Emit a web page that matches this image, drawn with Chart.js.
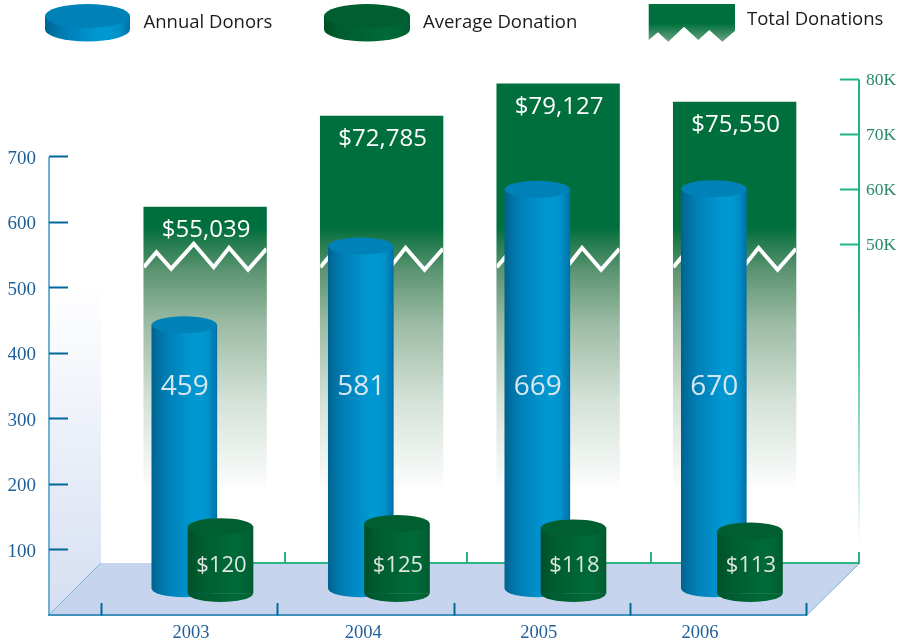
<!DOCTYPE html>
<html>
<head>
<meta charset="utf-8">
<title>Donors and donations</title>
<script src="https://cdn.jsdelivr.net/npm/chart.js@4"></script>
<style>
  html, body { margin: 0; padding: 0; background: #fff; }
  canvas { display: block; }
</style>
</head>
<body>
<canvas id="DonorChart" width="897" height="641"></canvas>
<script>
var categories = [2003, 2004, 2005, 2006];
var annualDonors = [459, 581, 669, 670];
var averageDonation = [120, 125, 118, 113];
var totalDonations = [55039, 72785, 79127, 75550];

var seriesNames = ['Annual Donors', 'Average Donation', 'Total Donations'];
var donorTicks = [100, 200, 300, 400, 500, 600, 700];
var totalTicks = [50000, 60000, 70000, 80000];
// the year labels do not sit quite in the middle of their slots
var yearLabelShift = [0.01, -0.014, -0.02, -0.106];

var SANS = '"Open Sans", sans-serif';
var SERIF = '"Liberation Serif", serif';

// zigzag of the broken axis: fraction of bar width, px from the 50K tick
var breakShape = [[0, 22.7], [0.103, 7.7], [0.223, 24.3], [0.407, -0.7], [0.57, 22.7], [0.695, 3.3], [0.85, 25.3], [1, 4.3]];

function points(values, shift) {
    return categories.map(function (year, i) {
        return { x: year + shift, y: values[i] };
    });
}

function dollars(v) {
    return '$' + v.toLocaleString('en-US');
}

function cylinderFill(stops, width) {
    return function (ctx) {
        var chart = ctx.chart;
        if (!chart.chartArea || !ctx.raw) return stops[0];
        var mid = chart.scales.x.getPixelForValue(ctx.raw.x);
        var g = chart.ctx.createLinearGradient(mid - width / 2, 0, mid + width / 2, 0);
        stops.forEach(function (s, i) { g.addColorStop(i / (stops.length - 1), s); });
        return g;
    };
}

var blueStops = ['#00638f', '#0074a6', '#0080b8', '#0087c0', '#0090c9', '#0098d2', '#0098d2', '#0090c8', '#0072a8'];
var greenStops = ['#004f27', '#005a2d', '#005f30', '#006233', '#006636', '#006a38', '#006636', '#005c2e'];

function totalFill(ctx) {
    var c = ctx.chart.ctx;
    var g = c.createLinearGradient(0, 228, 0, 495);
    g.addColorStop(0, '#006f3e');
    g.addColorStop(0.04, '#1b7849');
    g.addColorStop(0.16, '#5c9471');
    g.addColorStop(0.36, '#9cbba5');
    g.addColorStop(0.65, '#d5e2d8');
    g.addColorStop(1, '#ffffff');
    return g;
}

function disc(c, cx, top, rx, ry, height, bodyStops, topColor) {
    var g = c.createLinearGradient(cx - rx, 0, cx + rx, 0);
    bodyStops.forEach(function (s, i) { g.addColorStop(i / (bodyStops.length - 1), s); });
    c.fillStyle = g;
    c.beginPath();
    c.ellipse(cx, top + ry + height, rx, ry, 0, 0, Math.PI);
    c.lineTo(cx - rx, top + ry);
    c.lineTo(cx + rx, top + ry);
    c.closePath();
    c.fill();
    c.fillStyle = topColor;
    c.beginPath();
    c.ellipse(cx, top + ry, rx, ry, 0, 0, Math.PI * 2);
    c.fill();
}

// floor, wall and the axis lines the scales can't draw on their own
var roomPlugin = {
    id: 'room',
    beforeDraw: function (chart) {
        var c = chart.ctx;
        c.save();

        var wall = c.createLinearGradient(0, 285, 0, 615);
        wall.addColorStop(0, '#ffffff');
        wall.addColorStop(1, '#d5def1');
        c.fillStyle = wall;
        c.beginPath();
        c.moveTo(49, 285);
        c.lineTo(101, 285);
        c.lineTo(101, 563);
        c.lineTo(49, 615);
        c.closePath();
        c.fill();

        c.fillStyle = '#c6d4ee';
        c.beginPath();
        c.moveTo(49, 615);
        c.lineTo(101, 563);
        c.lineTo(860, 563);
        c.lineTo(807, 615);
        c.closePath();
        c.fill();

        c.strokeStyle = '#7fb6d4';
        c.lineWidth = 1;
        c.beginPath();
        c.moveTo(49, 615);
        c.lineTo(101, 563);
        c.moveTo(807, 615);
        c.lineTo(860, 563);
        c.stroke();

        // left axis and floor front edge
        c.strokeStyle = '#72b0d2';
        c.lineWidth = 2;
        c.beginPath();
        c.moveTo(49, chart.scales.y.getPixelForValue(700));
        c.lineTo(49, 615);
        c.stroke();
        c.strokeStyle = '#4292bd';
        c.beginPath();
        c.moveTo(48, 615);
        c.lineTo(807, 615);
        c.stroke();

        // right axis fades out, back edge of the floor is green
        var fade = c.createLinearGradient(0, 300, 0, 545);
        fade.addColorStop(0, '#1eb580');
        fade.addColorStop(1, '#ffffff');
        c.strokeStyle = fade;
        c.beginPath();
        c.moveTo(859, chart.scales.y2.getPixelForValue(80000));
        c.lineTo(859, 552);
        c.stroke();
        c.strokeStyle = '#2bb583';
        c.beginPath();
        c.moveTo(200, 563);
        c.lineTo(860, 563);
        [285, 467, 651, 859].forEach(function (x) {
            c.moveTo(x, 552);
            c.lineTo(x, 563);
        });
        c.stroke();
        c.restore();
    },
    afterDatasetDraw: function (chart, args) {
        var c = chart.ctx;
        var ds = chart.data.datasets[args.index];
        var bars = args.meta.data;
        c.save();
        c.textAlign = 'center';
        c.textBaseline = 'middle';
        bars.forEach(function (bar, i) {
            if (ds.kind == 'total') {
                var left = bar.x - bar.width / 2;
                var y50 = chart.scales.y2.getPixelForValue(50000);
                c.save();
                c.beginPath();
                c.rect(left, bar.y, bar.width, bar.base - bar.y);
                c.clip();
                c.strokeStyle = '#ffffff';
                c.lineWidth = 4;
                c.lineJoin = 'miter';
                c.beginPath();
                breakShape.forEach(function (p, k) {
                    if (k == 0) c.moveTo(left + p[0] * bar.width, y50 + p[1]);
                    else c.lineTo(left + p[0] * bar.width, y50 + p[1]);
                });
                c.stroke();
                c.restore();
                c.fillStyle = '#ffffff';
                c.font = '24px ' + SANS;
                c.fillText(dollars(totalDonations[i]), bar.x + 1, bar.y + 23);
            } else {
                var rx = bar.width / 2;
                var ry = 8.5;
                var stops = ds.kind == 'donors' ? blueStops : greenStops;
                var g = c.createLinearGradient(bar.x - rx, 0, bar.x + rx, 0);
                stops.forEach(function (s, k) { g.addColorStop(k / (stops.length - 1), s); });
                c.fillStyle = g;
                c.beginPath();
                c.ellipse(bar.x, bar.base, rx, ry, 0, 0, Math.PI);
                c.fill();
                c.fillStyle = ds.kind == 'donors' ? '#0082b8' : '#005f30';
                c.beginPath();
                c.ellipse(bar.x, bar.y, rx, ry, 0, 0, Math.PI * 2);
                c.fill();
                if (ds.kind == 'donors') {
                    c.fillStyle = '#d6e6ee';
                    c.font = '28px ' + SANS;
                    c.fillText(annualDonors[i], bar.x + 0.5, 387.5);
                } else {
                    c.fillStyle = '#dde6e2';
                    c.font = '22px ' + SANS;
                    c.fillText(dollars(averageDonation[i]), bar.x + 1, 566);
                }
            }
        });
        c.restore();
    },
    afterDraw: function (chart) {
        var c = chart.ctx;
        c.save();
        disc(c, 87.5, 4, 42.5, 12, 13.5, blueStops, '#0082b8');
        disc(c, 367, 4, 43, 12, 13.5, greenStops, '#005f30');

        var g = c.createLinearGradient(0, 14, 0, 42);
        g.addColorStop(0, '#006f3e');
        g.addColorStop(0.35, '#00703f');
        g.addColorStop(1, '#6da583');
        c.fillStyle = g;
        c.beginPath();
        c.moveTo(648.7, 4);
        c.lineTo(735, 4);
        [[735, 30.7], [722.3, 41.7], [709.3, 30], [698.3, 40], [684, 26.7], [668.3, 41.7], [658, 32.3], [648.7, 40]].forEach(function (p) {
            c.lineTo(p[0], p[1]);
        });
        c.closePath();
        c.fill();

        c.fillStyle = '#1a1a1a';
        c.font = '18.5px ' + SANS;
        c.textAlign = 'left';
        c.textBaseline = 'middle';
        c.fillText(seriesNames[0], 143.5, 23);
        c.fillText(seriesNames[1], 423, 23);
        c.fillText(seriesNames[2], 747, 20);
        c.restore();
    }
};

var config = {
    type: 'bar',
    data: {
        datasets: [{
            label: seriesNames[2],
            kind: 'total',
            data: points(totalDonations, 0.09),
            yAxisID: 'yTotal',
            order: 3,
            grouped: false,
            barThickness: 122.7,
            backgroundColor: totalFill
        }, {
            label: seriesNames[0],
            kind: 'donors',
            data: points(annualDonors, -0.028),
            yAxisID: 'yDonors',
            order: 2,
            grouped: false,
            base: 50,
            barThickness: 65,
            backgroundColor: cylinderFill(blueStops, 65)
        }, {
            label: seriesNames[1],
            kind: 'average',
            data: points(averageDonation, 0.177),
            yAxisID: 'yAverage',
            order: 1,
            grouped: false,
            base: 13,
            barThickness: 65,
            backgroundColor: cylinderFill(greenStops, 65)
        }]
    },
    plugins: [roomPlugin],
    options: {
        responsive: false,
        animation: false,
        layout: { padding: { top: 79.5 } },
        plugins: { legend: { display: false }, tooltip: { enabled: false } },
        scales: {
            x: {
                type: 'linear',
                position: 'bottom',
                offset: false,
                min: 2002.313,
                max: 2006.687,
                afterFit: function (s) { s.height = 38; },
                afterBuildTicks: function (s) {
                    var t = [];
                    categories.forEach(function (year, i) {
                        t.push({ value: year - 0.5 });
                        t.push({ value: year + yearLabelShift[i] });
                    });
                    t.push({ value: categories[categories.length - 1] + 0.5 });
                    s.ticks = t;
                },
                border: { display: false },
                grid: {
                    offset: false,
                    drawOnChartArea: false,
                    tickLength: 12.5,
                    tickWidth: 2,
                    tickColor: function (ctx) {
                        return ctx.tick && Number.isInteger(ctx.tick.value * 2) ? '#00689b' : 'rgba(0,0,0,0)';
                    }
                },
                ticks: {
                    autoSkip: false,
                    maxRotation: 0,
                    padding: 7,
                    color: '#1f5f99',
                    font: { family: SERIF, size: 18.5 },
                    callback: function (v) {
                        return Number.isInteger(v * 2) ? '' : String(Math.round(v));
                    }
                }
            },
            // left axis as printed
            y: {
                position: 'left',
                min: 19.08,
                max: 818.3,
                afterFit: function (s) { s.width = 68; },
                afterBuildTicks: function (s) {
                    s.ticks = donorTicks.map(function (v) { return { value: v }; });
                },
                border: { display: false },
                grid: { drawOnChartArea: false, tickLength: 19, tickWidth: 2, tickColor: '#00689b' },
                ticks: {
                    autoSkip: false,
                    padding: 13,
                    labelOffset: 2,
                    color: '#1f5f99',
                    font: { family: SERIF, size: 19 }
                }
            },
            // right axis as printed, broken below 50K
            y2: {
                position: 'right',
                min: -15182,
                max: 80000,
                afterFit: function (s) { s.width = 57; },
                afterBuildTicks: function (s) {
                    s.ticks = totalTicks.map(function (v) { return { value: v }; });
                },
                border: { display: false },
                grid: { drawOnChartArea: false, tickLength: 19, tickWidth: 2, tickColor: '#1eb580' },
                ticks: {
                    autoSkip: false,
                    padding: 7,
                    labelOffset: 1,
                    color: '#2a8a66',
                    font: { family: SERIF, size: 17.5 },
                    callback: function (v) { return (v / 1000) + 'K'; }
                }
            },
            // the bars stand deeper in the room, so each series gets its own hidden scale
            yDonors: { display: false, min: 27.95, max: 839.2 },
            yAverage: { display: false, min: -2.2, max: 836.2 },
            yTotal: { display: false, min: -22330, max: 79955 }
        }
    }
};

var donorChart = new Chart(document.getElementById('DonorChart'), config);
</script>
</body>
</html>
